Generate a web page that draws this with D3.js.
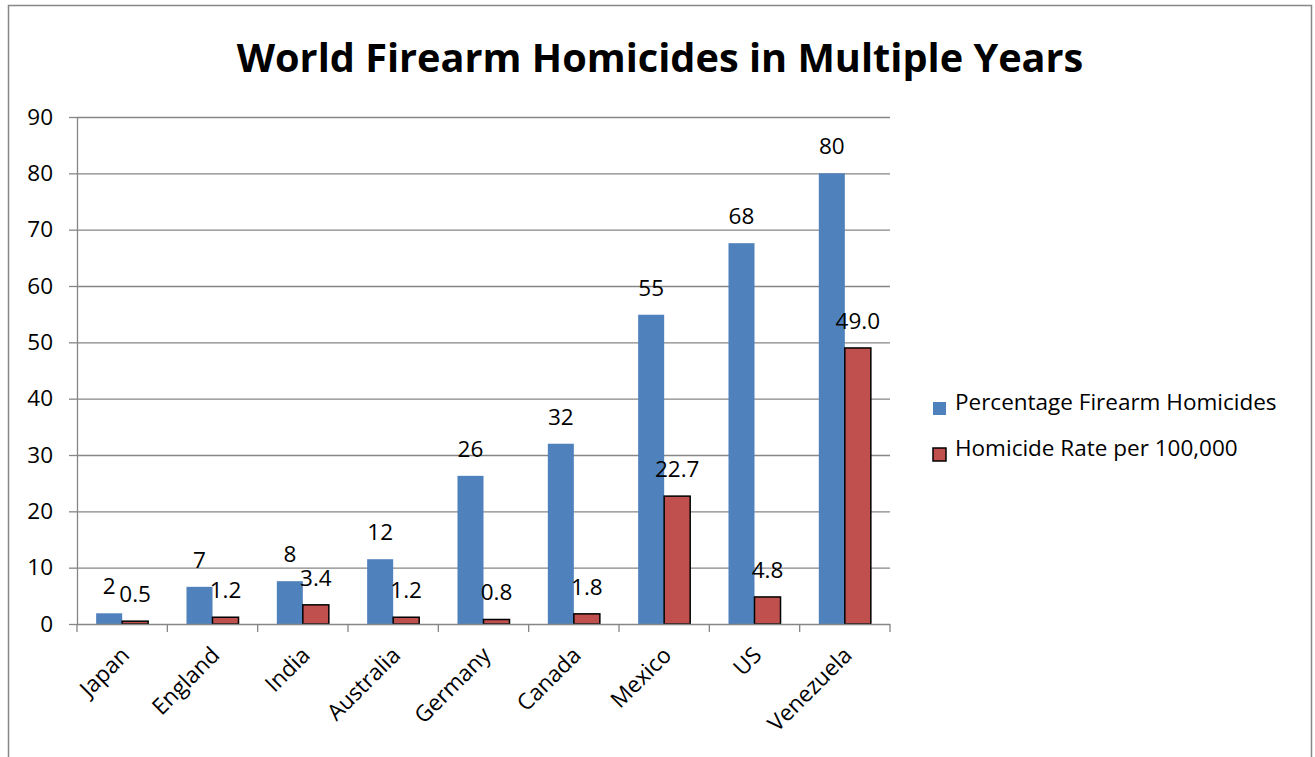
<!DOCTYPE html>
<html><head><meta charset="utf-8">
<script src="https://cdn.jsdelivr.net/npm/d3@7"></script>
<style>body{margin:0;background:#fff}svg{display:block}text{font-family:"Open Sans","Liberation Sans",sans-serif;fill:#000}</style>
</head><body><svg id="c" width="1315" height="757"></svg>
<script>
const categories = ["Japan","England","India","Australia","Germany","Canada","Mexico","US","Venezuela"];
const seriesNames = ["Percentage Firearm Homicides","Homicide Rate per 100,000"];
const pctFirearm = [1.9, 6.6, 7.6, 11.5, 26.3, 32.0, 54.9, 67.6, 80.0];
const homicideRate = [0.5, 1.2, 3.4, 1.2, 0.8, 1.8, 22.7, 4.8, 49.0];
const yTicks = [0,10,20,30,40,50,60,70,80,90];
const title = "World Firearm Homicides in Multiple Years";

const colors = ["#4F81BD","#C0504D"];
const strokes = ["none","#000"];
const fmts = [d3.format(".0f"), d3.format(".1f")];
const FS = 22.5;

const svg = d3.select("#c");
svg.append("rect").attr("x",8.5).attr("y",5.5).attr("width",1303).attr("height",770)
  .attr("fill","none").attr("stroke","#868686").attr("stroke-width",1.5);

svg.append("text").attr("x",660).attr("y",72).attr("text-anchor","middle")
  .attr("font-size",39.7).attr("font-weight","bold").text(title);

const L=77, R=890, T=117, B=624;
const x0 = d3.scaleBand().domain(categories).range([L,R]).padding(0);
const bw = x0.bandwidth();
const gap = bw*0.212;
const x1 = d3.scaleBand().domain([0,1]).range([gap, bw-gap]).padding(0);
const y = d3.scaleLinear().domain([0,90]).range([B,T]);

svg.append("g").selectAll("line").data(yTicks.filter(d=>d>0)).join("line")
  .attr("x1",L).attr("x2",R).attr("y1",d=>y(d)+0.5).attr("y2",d=>y(d)+0.5)
  .attr("stroke","#868686").attr("stroke-width",1.3);

const yAx = svg.append("g").attr("transform",`translate(${L},0)`)
  .call(d3.axisLeft(y).tickValues(yTicks).tickSize(8).tickPadding(16).tickSizeOuter(0));
yAx.select(".domain").attr("stroke","#868686").attr("stroke-width",1.3);
yAx.selectAll(".tick line").attr("stroke","#868686").attr("stroke-width",1.3);
yAx.selectAll(".tick text").attr("font-size",FS).attr("font-family","Open Sans").attr("fill","#000");

const data = categories.map((c,i)=>({c, v:[pctFirearm[i], homicideRate[i]]}));

const g = svg.append("g").selectAll("g").data(data).join("g")
  .attr("transform",d=>`translate(${x0(d.c)},0)`);
g.selectAll("rect").data(d=>d.v.map((v,k)=>({v,k}))).join("rect")
  .attr("x",d=>x1(d.k)).attr("width",x1.bandwidth())
  .attr("y",d=>y(d.v)).attr("height",d=>B-y(d.v))
  .attr("fill",d=>colors[d.k]).attr("stroke",d=>strokes[d.k]).attr("stroke-width",1.5);

const xAx = svg.append("g").attr("transform",`translate(0,${B})`);
xAx.append("line").attr("x1",L).attr("x2",R).attr("y1",0.5).attr("y2",0.5)
  .attr("stroke","#868686").attr("stroke-width",1.3);
xAx.selectAll("line.tk").data(d3.range(categories.length+1)).join("line").attr("class","tk")
  .attr("x1",i=>L+i*bw).attr("x2",i=>L+i*bw).attr("y1",0).attr("y2",8)
  .attr("stroke","#868686").attr("stroke-width",1.3);
xAx.selectAll("text").data(categories).join("text")
  .attr("transform",d=>`translate(${x0(d)+bw/2+3},${27}) rotate(-45)`)
  .attr("text-anchor","end").attr("dy","0.35em").attr("font-size",FS).text(d=>d);

g.selectAll("text").data(d=>d.v.map((v,k)=>({v,k}))).join("text")
  .attr("x",d=>x1(d.k)+x1.bandwidth()/2).attr("y",d=>y(d.v)-19)
  .attr("text-anchor","middle").attr("font-size",FS).text(d=>fmts[d.k](d.v));

const lg = svg.append("g").selectAll("g").data(seriesNames).join("g")
  .attr("transform",(d,i)=>`translate(933,${402+i*46})`);
lg.append("rect").attr("width",13).attr("height",13)
  .attr("fill",(d,i)=>colors[i]).attr("stroke",(d,i)=>strokes[i]).attr("stroke-width",1.5);
lg.append("text").attr("x",22).attr("y",6).attr("font-size",FS).attr("dy","0.1em").text(d=>d);
</script></body></html>
